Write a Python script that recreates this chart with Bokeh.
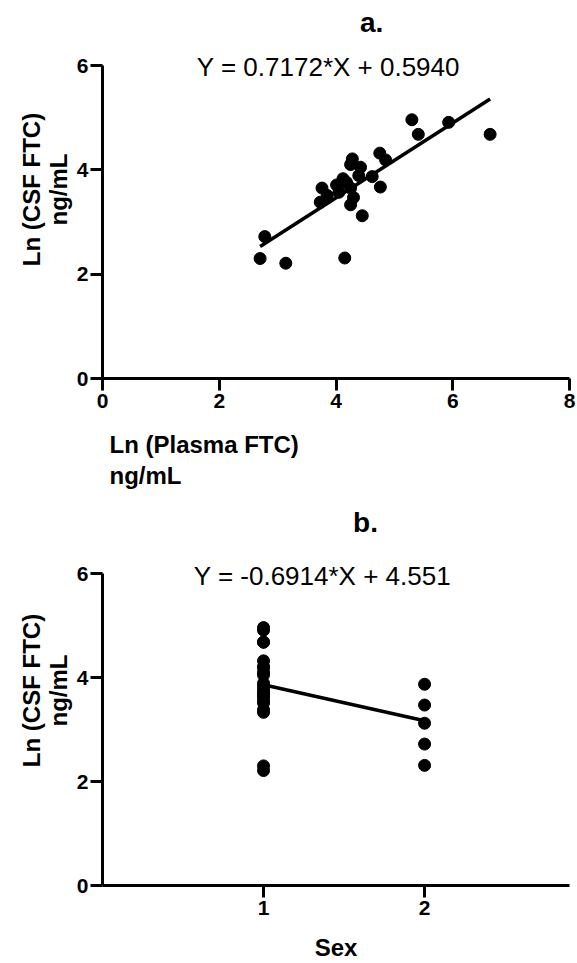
import numpy as np
from bokeh.plotting import figure
from bokeh.models import Range1d, FixedTicker, Label, Title
from bokeh.layouts import column
from bokeh.embed import file_html
from bokeh.resources import INLINE

# ---- data ----
ln_plasma = [5.30, 5.93, 5.41, 6.64, 4.28, 4.75, 4.85, 4.25, 4.42, 4.39, 4.62, 3.76, 4.01, 4.18,
             4.25, 4.30, 4.76, 3.85, 3.73, 4.25, 4.45, 2.78, 2.70, 3.14, 4.15, 4.12, 4.05]
ln_csf = [4.96, 4.91, 4.68, 4.68, 4.21, 4.32, 4.19, 4.10, 4.05, 3.89, 3.87, 3.65, 3.71, 3.76,
          3.65, 3.47, 3.67, 3.51, 3.38, 3.33, 3.12, 2.72, 2.30, 2.21, 2.31, 3.83, 3.57]
sex = [1, 1, 1, 1, 1, 1, 1, 1, 1, 1, 2, 1, 1, 1, 1, 2, 1, 1, 1, 1, 2, 2, 1, 1, 2, 1, 1]

fit_a = [0.7172, 0.5940]   # slope, intercept
fit_b = [-0.6914, 4.551]
eq_a = "Y = 0.7172*X + 0.5940"
eq_b = "Y = -0.6914*X + 4.551"

xticks_a = [0, 2, 4, 6, 8]
yticks = [0, 2, 4, 6]
xticks_b = [1, 2]
y_max = 6

FONT = "Liberation Sans"

# ---- layout geometry (pixels) ----
W = 577
LEFT, RIGHT = 102, 8
A_H, A_BOTTOM, A_AXIS = 495, 117, 313     # figure height, bottom border, pixel length of 0..6
B_H, B_BOTTOM, B_AXIS = 468, 78, 312


def style(p, xt, yt):
    p.grid.visible = False
    p.outline_line_color = None
    p.background_fill_color = "white"
    p.border_fill_color = "white"
    p.xaxis.ticker = FixedTicker(ticks=xt)
    p.yaxis.ticker = FixedTicker(ticks=yt)
    p.yaxis.bounds = (0, y_max)
    for ax in (p.xaxis[0], p.yaxis[0]):
        ax.axis_line_width = 3
        ax.axis_line_color = "black"
        ax.major_tick_line_width = 3
        ax.major_tick_line_color = "black"
        ax.major_tick_out = 12
        ax.major_tick_in = 0
        ax.minor_tick_out = 0
        ax.minor_tick_in = 0
        ax.major_label_text_font = FONT
        ax.major_label_text_font_style = "bold"
        ax.major_label_text_font_size = "21px"
        ax.major_label_text_color = "black"
    p.xaxis.major_label_standoff = 3
    p.yaxis.major_label_standoff = 2
    p.yaxis.axis_label = "Ln (CSF FTC)\nng/mL"
    p.yaxis.axis_label_text_font = FONT
    p.yaxis.axis_label_text_font_style = "bold"
    p.yaxis.axis_label_text_font_size = "24px"
    p.yaxis.axis_label_text_line_height = 1.0
    p.yaxis.axis_label_text_color = "black"
    p.yaxis.axis_label_standoff = 2


def text(p, x, y, s, size, bold):
    p.add_layout(Label(x=x, y=y, text=s, text_font=FONT, text_font_size=size,
                       text_font_style="bold" if bold else "normal",
                       text_align="center", text_baseline="middle", text_color="black"))


def below_title(p, s, standoff, size="24px"):
    p.add_layout(Title(text=s, align="left", offset=7, standoff=standoff, text_font=FONT,
                       text_font_size=size, text_font_style="bold", text_color="black"), "below")


# ---- panel a ----
a_frame = A_H - A_BOTTOM
pa = figure(width=W, height=A_H, output_backend="svg", toolbar_location=None, title=None,
            x_range=Range1d(0, 8), y_range=Range1d(0, y_max * a_frame / A_AXIS),
            min_border_left=LEFT, min_border_right=RIGHT, min_border_top=0,
            min_border_bottom=A_BOTTOM)
style(pa, xticks_a, yticks)
lx = np.array([min(ln_plasma), max(ln_plasma)])
pa.line(lx, fit_a[0] * lx + fit_a[1], line_width=3.5, line_color="black")
pa.scatter(ln_plasma, ln_csf, size=12, fill_color="black", line_color="black")
text(pa, 4.61, 6.82, "a.", "28px", True)
text(pa, 3.87, 5.98, eq_a, "26px", False)
below_title(pa, " ", 1, "12px")          # spacer
below_title(pa, "Ln (Plasma FTC)", 3)
below_title(pa, "ng/mL", 0)

# ---- panel b ----
b_frame = B_H - B_BOTTOM
pb = figure(width=W, height=B_H, output_backend="svg", toolbar_location=None, title=None,
            x_range=Range1d(0, 2.9), y_range=Range1d(0, y_max * b_frame / B_AXIS),
            min_border_left=LEFT, min_border_right=RIGHT, min_border_top=0,
            min_border_bottom=B_BOTTOM)
style(pb, xticks_b, yticks)
pb.xaxis.axis_label = "Sex"
pb.xaxis.axis_label_text_font = FONT
pb.xaxis.axis_label_text_font_style = "bold"
pb.xaxis.axis_label_text_font_size = "24px"
pb.xaxis.axis_label_text_color = "black"
pb.xaxis.axis_label_standoff = 16
bx = np.array([1, 2])
pb.line(bx, fit_b[0] * bx + fit_b[1], line_width=3.5, line_color="black")
pb.scatter(sex, ln_csf, size=12, fill_color="black", line_color="black")
text(pb, 1.633, 6.98, "b.", "28px", True)
text(pb, 1.366, 5.96, eq_b, "26px", False)

layout = column(pa, pb)
open("out.html", "w").write(file_html(layout, INLINE))
